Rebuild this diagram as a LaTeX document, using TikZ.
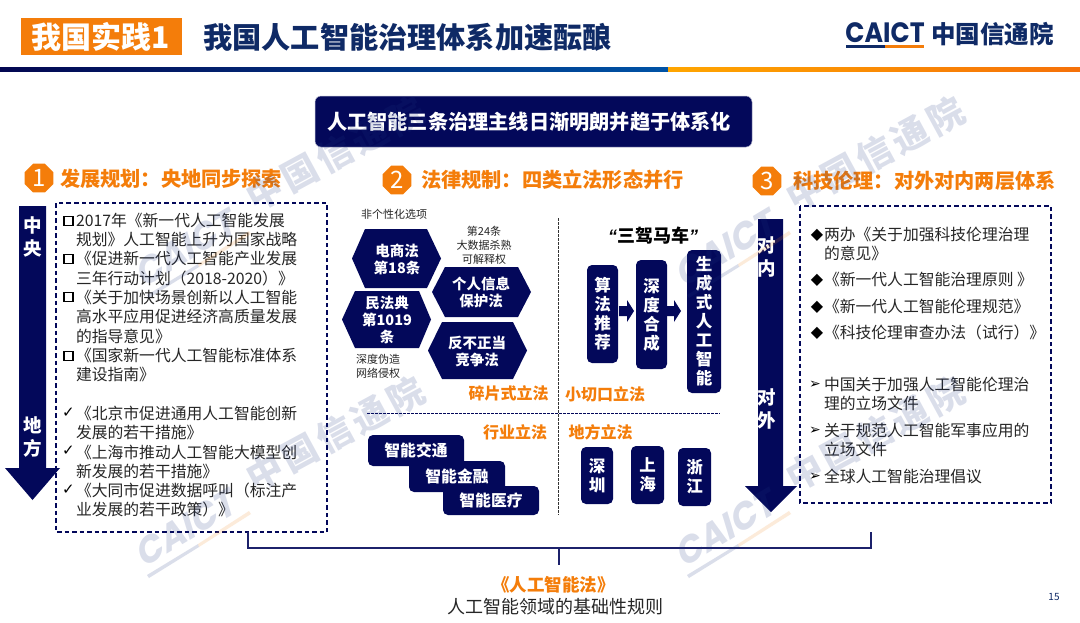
\documentclass[tikz,border=0pt]{standalone}
\usepackage{fontspec}
\usetikzlibrary{shapes.geometric}
\setmainfont{Noto Sans CJK SC}
\newfontfamily\lat{Liberation Sans}
\newfontfamily\logofont{Poppins}
\newfontfamily\sym{DejaVu Sans}
\definecolor{navy}{HTML}{03085A}
\definecolor{titleblue}{HTML}{0F2A66}
\definecolor{brand}{HTML}{F47D0A}
\definecolor{ink}{HTML}{262626}
\definecolor{wmblue}{HTML}{1E3480}
\definecolor{wmorange}{HTML}{F0851A}
\newcommand{\fz}[2]{\fontsize{#1}{#2}\selectfont}
\tikzset{
  txt/.style={inner sep=0pt,outer sep=0pt,text=ink,align=left,font=\fz{15.8}{19.3}},
  sub/.style={inner sep=0pt,outer sep=0pt,text=brand,font=\fz{16}{20}\bfseries},
  head/.style={inner sep=0pt,outer sep=0pt,text=brand,anchor=west,font=\fz{20.2}{24}\bfseries},
  smallcap/.style={inner sep=0pt,outer sep=0pt,text=ink,align=center,font=\fz{11}{14}},
  badge/.style={regular polygon,regular polygon sides=8,fill=brand,inner sep=0pt,outer sep=0pt,minimum size=31pt,text=white,font=\fz{24}{24}},
  navyshape/.style={fill=navy,draw=none},
  hextext/.style={inner sep=0pt,outer sep=0pt,text=white,align=center,font=\fz{14.5}{17}\bfseries},
  pill/.style={rectangle,rounded corners=5pt,fill=navy,inner sep=0pt,outer sep=0pt,text=white,align=center,font=\fz{16.5}{19}\bfseries},
  widepill/.style={pill,font=\fz{15.8}{19}\bfseries},
  arrowtext/.style={inner sep=0pt,outer sep=0pt,text=white,align=center,font=\fz{18.5}{23.5}\bfseries},
  boxline/.style={draw=navy,line width=1.3pt,dash pattern=on 4.5pt off 3pt},
  thindash/.style={draw=navy,line width=.7pt,dash pattern=on 2.5pt off 1.5pt},
  bracket/.style={draw=navy!90!white,line width=1.6pt},
  sq/.style={rectangle,draw=black,line width=1.8pt,fill=white,minimum size=9pt,inner sep=0pt,outer sep=0pt},
  mk/.style={inner sep=0pt,outer sep=0pt,text=black},
}
\begin{document}
\begin{tikzpicture}[x=1pt,y=-1pt]
\useasboundingbox (0,0) rectangle (1080,622);
\fill[white] (0,0) rectangle (1080,622);
% header
\node[rectangle,fill=brand,inner sep=0pt,outer sep=0pt,minimum width=161pt,minimum height=37pt,text=white,font=\fz{30}{30}\bfseries] (tag) at (101,36.5) {我国实践1};
\node[inner sep=0pt,anchor=west,text=titleblue,font=\fz{29.2}{30}\bfseries] (title) at (203,37) {我国人工智能治理体系加速酝酿};
\shade[left color=navy!90!black,right color=blue!50!cyan!65!black] (0,67) rectangle (668,71);
\shade[left color=orange!70!yellow,right color=brand!90!red] (668,67) rectangle (1080,71);
\node[inner sep=0pt,text=titleblue,font=\logofont\fz{28}{28}\bfseries,xscale=.9] (caict) at (885,32.5) {CAICT};
\fill[titleblue] (846,45) rectangle (885,47.5);
\fill[brand] (885,45) rectangle (924,47.5);
\node[inner sep=0pt,anchor=west,text=titleblue,font=\fz{24.5}{25}\bfseries] (cn) at (931,34) {中国信通院};
% banner
\node[rectangle,rounded corners=6pt,fill=navy,draw=navy!30!white,line width=.5pt,minimum width=437pt,minimum height=51pt,inner sep=0pt,text=white,font=\fz{20.2}{24}\bfseries] (banner) at (533.5,121.5) {人工智能三条治理主线日渐明朗并趋于体系化\hspace*{9pt}};
% section heads
\node[badge] (n1) at (39,178) {1};
\node[head] (h1) at (60,178.5) {发展规划：央地同步探索};
\node[badge] (n2) at (397,180) {2};
\node[head] (h2) at (421,179.5) {法律规制：四类立法形态并行};
\node[badge] (n3) at (767,181) {3};
\node[head] (h3) at (793,180.5) {科技伦理：对外对内两层体系};
% left column
\fill[navyshape] (19,206) -- (46,206) -- (46,468) -- (60,468) -- (32.5,500) -- (5,468) -- (19,468) -- cycle;
\node[arrowtext] (zy) at (32.5,237) {中\\央};
\node[arrowtext] (df) at (32.5,437) {地\\方};
\draw[boxline] (56,203) rectangle (327,532);
\node[sq] (s1) at (68.5,221) {};
\node[sq] (s2) at (68.5,259) {};
\node[sq] (s3) at (68.5,297) {};
\node[sq] (s4) at (68.5,356) {};
\node[txt,anchor=north west] (centrallist) at (76,213) {2017年《新一代人工智能发展\\规划》人工智能上升为国家战略\\《促进新一代人工智能产业发展\\三年行动计划（2018-2020）》\\《关于加快场景创新以人工智能\\高水平应用促进经济高质量发展\\的指导意见》\\《国家新一代人工智能标准体系\\建设指南》};
\node[mk,font=\sym\fz{15}{15}] (c1) at (68.5,413) {✓};
\node[mk,font=\sym\fz{15}{15}] (c2) at (68.5,451) {✓};
\node[mk,font=\sym\fz{15}{15}] (c3) at (68.5,490) {✓};
\node[txt,anchor=north west] (locallist) at (76,406) {《北京市促进通用人工智能创新\\发展的若干措施》\\《上海市推动人工智能大模型创\\新发展的若干措施》\\《大同市促进数据呼叫（标注产\\业发展的若干政策）》};
% hexagons
\fill[navyshape] (352,258.5) -- (365,229) -- (427,229) -- (441,258.5) -- (427,288) -- (365,288) -- cycle;
\node[hextext] (hexa) at (397,259.5) {电商法\\第18条};
\fill[navyshape] (342,319.5) -- (355,291) -- (419,291) -- (431,319.5) -- (419,348) -- (355,348) -- cycle;
\node[hextext] (hexb) at (387,320) {民法典\\第1019\\条};
\fill[navyshape] (432,292) -- (445,267) -- (518,267) -- (531,292) -- (518,317) -- (445,317) -- cycle;
\node[hextext] (hexc) at (481,292.5) {个人信息\\保护法};
\fill[navyshape] (428,350.5) -- (442,322) -- (513,322) -- (527,350.5) -- (513,379) -- (442,379) -- cycle;
\node[hextext] (hexd) at (477,351.5) {反不正当\\竞争法};
\node[smallcap] (ca) at (394,214) {非个性化选项};
\node[smallcap] (cb) at (484,245) {第24条\\大数据杀熟\\可解释权};
\node[smallcap] (cc) at (378,366) {深度伪造\\网络侵权};
\node[sub] (la) at (508.5,393) {碎片式立法};
\node[sub] (lb) at (515,432) {行业立法};
\node[sub] (lc) at (605,394) {小切口立法};
\node[sub] (ld) at (600.5,432) {地方立法};
% dashed dividers
\coordinate (hl) at (367,413); \coordinate (hr) at (720,413);
\coordinate (vt) at (558,218); \coordinate (vb) at (558,515);
\draw[thindash] (hl) -- (hr);
\draw[thindash,draw=black!80] (vt) -- (vb);
% industry
\node[widepill,minimum width=96pt,minimum height=31pt] (p1) at (416,450.5) {智能交通};
\node[widepill,minimum width=96pt,minimum height=31pt] (p2) at (457,476.5) {智能金融};
\node[widepill,minimum width=96pt,minimum height=29pt] (p3) at (491,500.5) {智能医疗};
% three
\node[inner sep=0pt,text=black,font=\fz{18}{20}\bfseries] (sjmc) at (653,236) {{\lat\itshape “}三驾马车{\lat\itshape ”}};
\node[pill,minimum width=31pt,minimum height=98pt] (v1) at (602.5,314) {算\\法\\推\\荐};
\node[pill,minimum width=31pt,minimum height=109pt] (v2) at (651.5,314.5) {深\\度\\合\\成};
\node[pill,minimum width=34pt,minimum height=143pt] (v3) at (704,321.5) {生\\成\\式\\人\\工\\智\\能};
\fill[navyshape] (619,306) -- (627,306) -- (627,300) -- (634,311) -- (627,322) -- (627,316) -- (619,316) -- cycle;
\fill[navyshape] (667,306) -- (674,306) -- (674,300) -- (681,311) -- (674,322) -- (674,316) -- (667,316) -- cycle;
% local
\node[pill,minimum width=32pt,minimum height=57pt] (r1) at (597,475.5) {深\\圳};
\node[pill,minimum width=33pt,minimum height=58pt] (r2) at (647.5,475) {上\\海};
\node[pill,minimum width=33pt,minimum height=58pt] (r3) at (694.5,477) {浙\\江};
% right column
\fill[navyshape] (758,219) -- (783,219) -- (783,486) -- (797,486) -- (771,512) -- (745,486) -- (758,486) -- cycle;
\node[arrowtext] (dn) at (767,257) {对\\内};
\node[arrowtext] (dw) at (767,409) {对\\外};
\draw[boxline] (800,206) rectangle (1051,503);
\node[mk,font=\sym\fz{16}{16}] (d1) at (817,235) {◆};
\node[mk,font=\sym\fz{16}{16}] (d2) at (817,280) {◆};
\node[mk,font=\sym\fz{16}{16}] (d3) at (817,307) {◆};
\node[mk,font=\sym\fz{16}{16}] (d4) at (817,333) {◆};
\node[txt,anchor=north west] (r1t) at (824,227) {两办《关于加强科技伦理治理\\的意见》};
\node[txt,anchor=north west] (r2t) at (824,272) {《新一代人工智能治理原则 》};
\node[txt,anchor=north west] (r3t) at (824,299) {《新一代人工智能伦理规范》};
\node[txt,anchor=north west] (r4t) at (824,325) {《科技伦理审查办法（试行）》};
\node[mk,font=\sym\fz{14}{14}] (a1) at (815,385) {➢};
\node[mk,font=\sym\fz{14}{14}] (a2) at (815,431) {➢};
\node[mk,font=\sym\fz{14}{14}] (a3) at (815,477) {➢};
\node[txt,anchor=north west] (r5t) at (824,377) {中国关于加强人工智能伦理治\\理的立场文件};
\node[txt,anchor=north west] (r6t) at (824,423) {关于规范人工智能军事应用的\\立场文件};
\node[txt,anchor=north west] (r7t) at (824,469) {全球人工智能治理倡议};
% bracket
\coordinate (bl) at (248,532); \coordinate (br) at (871,532);
\coordinate (bm) at (559,548); \coordinate (bt) at (559,565);
\draw[bracket] (bl) |- (bm) -| (br);
\draw[bracket] (bm) -- (bt);
\node[inner sep=0pt,text=brand,font=\fz{17.5}{20}\bfseries] (law) at (553.5,585) {《人工智能法》};
\node[inner sep=0pt,text=ink,font=\fz{18}{20}] (rule) at (555,607) {人工智能领域的基础性规则};
\node[inner sep=0pt,text=titleblue,font=\fz{10}{12}] (pg) at (1054,597) {15};
% watermarks
\foreach \dx/\dy/\nm in {0/0/a,540/0/b,0/-280/c,540/-280/d}{
\begin{scope}[shift={(\dx,\dy)},opacity=.16]
  \node[inner sep=0pt,rotate=31,text=wmblue,font=\logofont\fz{37}{37}\bfseries,xslant=.25,xscale=.95] (wm\nm1) at (187,527) {CAICT};
  \node[inner sep=0pt,rotate=28.5,text=wmblue,font=\fz{36}{36}\bfseries] (wm\nm2) at (335,434) {中\hspace{4pt}国\hspace{4pt}信\hspace{4pt}通\hspace{4pt}院};
  \fill[wmblue] (147,575) -- (198,544) -- (199,547) -- (149,578) -- cycle;
  \fill[wmorange] (198,544) -- (249,511) -- (251,514) -- (199,547) -- cycle;
\end{scope}}
\end{tikzpicture}
\end{document}
